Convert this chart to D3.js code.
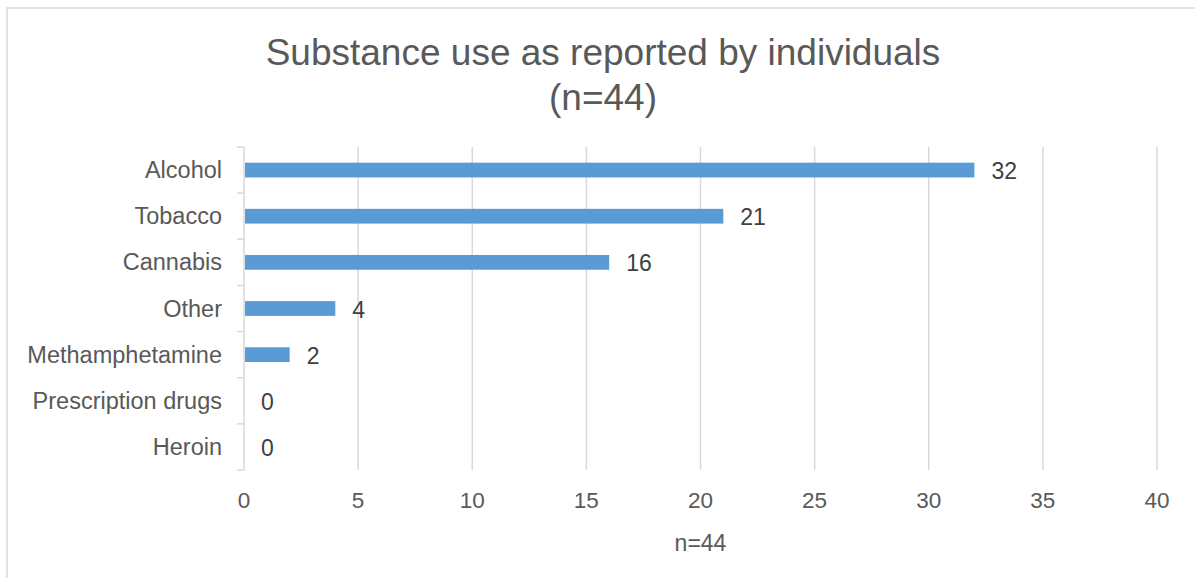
<!DOCTYPE html>
<html>
<head>
<meta charset="utf-8">
<script src="https://cdn.jsdelivr.net/npm/d3@7"></script>
<style>
  html, body { margin: 0; padding: 0; background: #fff; }
  svg { display: block; font-family: "Liberation Sans", Arial, sans-serif; }
</style>
</head>
<body>
<svg id="chart" width="1195" height="578"></svg>
<script>
const categories = ["Alcohol", "Tobacco", "Cannabis", "Other", "Methamphetamine", "Prescription drugs", "Heroin"];
const values = [32, 21, 16, 4, 2, 0, 0];
const xTicks = [0, 5, 10, 15, 20, 25, 30, 35, 40];
const titleLines = ["Substance use as reported by individuals", "(n=44)"];
const xAxisTitle = "n=44";

const svg = d3.select("#chart");
const plot = { left: 244, right: 1157, top: 147, bottom: 470 };
const gridColor = "#d9d9d9";

// chart border
svg.append("rect")
  .attr("x", 7).attr("y", 8).attr("width", 1250).attr("height", 650)
  .attr("fill", "none").attr("stroke", gridColor).attr("stroke-width", 1.5);

const x = d3.scaleLinear().domain([0, 40]).range([plot.left, plot.right]);
const y = d3.scaleBand().domain(categories).range([plot.top, plot.bottom]).paddingInner(0.68).paddingOuter(0.34);
const yStep = d3.scaleBand().domain(categories).range([plot.top, plot.bottom]);

// gridlines
svg.append("g").selectAll("line").data(xTicks.filter(d => d > 0)).join("line")
  .attr("x1", d => x(d)).attr("x2", d => x(d))
  .attr("y1", plot.top).attr("y2", plot.bottom)
  .attr("stroke", gridColor).attr("stroke-width", 1.5);

// y axis line with tick marks at band boundaries
const yAxisG = svg.append("g");
yAxisG.append("line")
  .attr("x1", x(0)).attr("x2", x(0)).attr("y1", plot.top).attr("y2", plot.bottom)
  .attr("stroke", gridColor).attr("stroke-width", 1.5);
const bounds = categories.map(c => yStep(c)).concat([plot.bottom]);
yAxisG.selectAll("line.tk").data(bounds).join("line").attr("class", "tk")
  .attr("x1", x(0) - 7).attr("x2", x(0))
  .attr("y1", d => d).attr("y2", d => d)
  .attr("stroke", gridColor).attr("stroke-width", 1.5);

// category labels
svg.append("g").selectAll("text").data(categories).join("text")
  .attr("x", 222)
  .attr("y", d => yStep(d) + yStep.bandwidth() / 2)
  .attr("text-anchor", "end").attr("dominant-baseline", "central")
  .attr("font-size", 23.5).attr("fill", "#595959")
  .text(d => d);

// bars
svg.append("g").selectAll("rect").data(values).join("rect")
  .attr("x", x(0) + 1)
  .attr("y", (d, i) => y(categories[i]))
  .attr("width", d => Math.max(0, x(d) - x(0) - 1))
  .attr("height", y.bandwidth())
  .attr("fill", "#5b9bd5");

// data labels
svg.append("g").selectAll("text").data(values).join("text")
  .attr("x", d => x(d) + 17)
  .attr("y", (d, i) => yStep(categories[i]) + yStep.bandwidth() / 2 + 1)
  .attr("dominant-baseline", "central")
  .attr("font-size", 23).attr("fill", "#404040")
  .text(d => d);

// x tick labels
svg.append("g").selectAll("text").data(xTicks).join("text")
  .attr("x", d => x(d)).attr("y", 500)
  .attr("text-anchor", "middle").attr("dominant-baseline", "central")
  .attr("font-size", 22.5).attr("fill", "#595959")
  .text(d => d);

// axis title
svg.append("text")
  .attr("x", (plot.left + plot.right) / 2).attr("y", 543)
  .attr("text-anchor", "middle").attr("dominant-baseline", "central")
  .attr("font-size", 23).attr("fill", "#595959")
  .text(xAxisTitle);

// chart title
svg.append("g").selectAll("text").data(titleLines).join("text")
  .attr("x", 603).attr("y", (d, i) => 65 + i * 45)
  .attr("text-anchor", "middle")
  .attr("font-size", 37).attr("fill", "#595959")
  .text(d => d);
</script>
</body>
</html>
